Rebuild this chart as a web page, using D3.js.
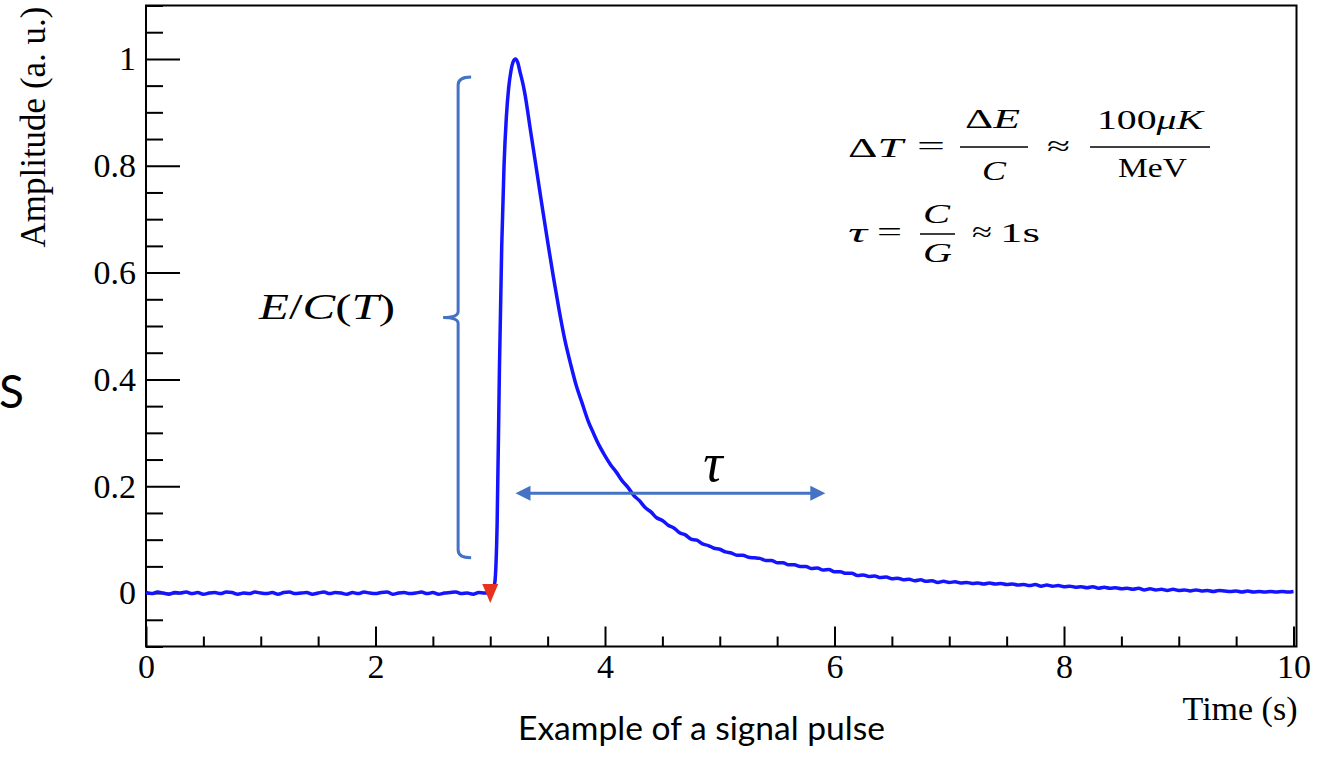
<!DOCTYPE html>
<html>
<head>
<meta charset="utf-8">
<script src="https://cdn.jsdelivr.net/npm/d3@7"></script>
<style>
  html, body { margin: 0; padding: 0; background: #fff; }
  svg { display: block; }
</style>
</head>
<body>
<svg id="chart" width="1321" height="758"></svg>
<script>
// Baseline before the pulse, one sample every 50 ms starting at t = 0 s
const baselineStart = 0.0;
const baselineStep = 0.05;
const baselineAmp = [
  0.001, -0.001, 0.002, 0.000, -0.002, 0.001, 0.000, 0.002, -0.001, 0.001,
  -0.002, 0.000, 0.001, -0.001, 0.002, 0.001, -0.002, 0.000, -0.001, 0.002,
  0.000, -0.001, 0.001, -0.002, 0.001, 0.002, -0.001, 0.000, 0.001, -0.002,
  0.000, 0.002, -0.001, 0.001, 0.000, -0.002, 0.001, -0.001, 0.002, 0.000,
  -0.001, 0.001, 0.002, -0.002, 0.000, 0.001, -0.001, 0.000, 0.002, -0.001,
  0.001, -0.002, 0.000, 0.001, 0.002, -0.001, 0.000, -0.002, 0.001, 0.000
];

// Leading edge, peak and first part of the fall
const pulseTimes = [3.00, 3.02, 3.04, 3.06, 3.08, 3.10, 3.12, 3.14, 3.16, 3.18, 3.20, 3.22,
                    3.24, 3.26, 3.28, 3.30, 3.35, 3.40, 3.45, 3.50, 3.55, 3.60, 3.65];
const pulseAmp   = [0.000, 0.004, 0.020, 0.130, 0.420, 0.650, 0.800, 0.890, 0.945, 0.977, 0.995, 1.000,
                    0.993, 0.975, 0.958, 0.937, 0.867, 0.797, 0.727, 0.658, 0.592, 0.530, 0.474];

// Thermal decay tail, one sample every 50 ms starting at t = 3.70 s
const tailStart = 3.70;
const tailStep = 0.05;
const tailAmp = [
  0.429, 0.388, 0.356, 0.324, 0.299, 0.276, 0.257, 0.240, 0.226, 0.210,
  0.198, 0.183, 0.173, 0.160, 0.152, 0.141, 0.136, 0.127, 0.122, 0.113,
  0.109, 0.101, 0.099, 0.092, 0.089, 0.084, 0.082, 0.077, 0.075, 0.071,
  0.071, 0.067, 0.066, 0.065, 0.061, 0.061, 0.057, 0.057, 0.053, 0.053,
  0.050, 0.050, 0.046, 0.047, 0.043, 0.044, 0.040, 0.040, 0.037, 0.037,
  0.033, 0.034, 0.031, 0.032, 0.029, 0.030, 0.027, 0.028, 0.025, 0.026,
  0.023, 0.025, 0.022, 0.023, 0.020, 0.022, 0.020, 0.021, 0.019, 0.020,
  0.018, 0.019, 0.017, 0.019, 0.017, 0.018, 0.016, 0.017, 0.015, 0.016,
  0.014, 0.016, 0.013, 0.015, 0.013, 0.014, 0.012, 0.013, 0.011, 0.012,
  0.010, 0.012, 0.009, 0.011, 0.009, 0.010, 0.008, 0.009, 0.007, 0.009,
  0.006, 0.008, 0.006, 0.007, 0.005, 0.007, 0.005, 0.006, 0.004, 0.006,
  0.004, 0.005, 0.003, 0.005, 0.004, 0.003, 0.004, 0.002, 0.004, 0.002,
  0.003, 0.002, 0.003, 0.002, 0.003, 0.002, 0.003
];

// Axis ticks
const xMajorTicks = [0, 2, 4, 6, 8, 10];
const yMajorTicks = [0, 0.2, 0.4, 0.6, 0.8, 1];

// Annotations (in data units)
const triggerTime = 3.0;             // onset marker
const tauSpan = [3.22, 5.92];        // decay-time arrow
const tauLevel = 0.187;
const braceTime = 2.72;              // energy bracket
const braceRange = [0.066, 0.966];

// ----------------------------------------------------------------------
const svg = d3.select("#chart");
const frame = { left: 146, right: 1296.5, top: 5.5, bottom: 646.5 };

const x = d3.scaleLinear().domain([0, 10.026]).range([frame.left, frame.right]);
const y = d3.scaleLinear().domain([-0.1, 1.1]).range([frame.bottom, frame.top]);

const serif = "'Liberation Serif', 'Times New Roman', serif";
const sans = "Lato, 'Open Sans', 'Liberation Sans', sans-serif";

// assemble the trace
const trace = [];
baselineAmp.forEach((a, i) => trace.push([baselineStart + i * baselineStep, a]));
pulseTimes.forEach((t, i) => trace.push([t, pulseAmp[i]]));
tailAmp.forEach((a, i) => trace.push([tailStart + i * tailStep, a]));

// ---- axes (ticks point inward, ROOT style)
const xMinor = d3.range(0, 10.001, 0.5).filter(v => !xMajorTicks.includes(v));
const yMinor = d3.range(-0.1, 1.1001, 0.05).map(v => +v.toFixed(2))
                 .filter(v => !yMajorTicks.some(m => Math.abs(m - v) < 1e-6));

function styleAxis(g) {
  g.select(".domain").remove();
  g.selectAll("line").attr("stroke", "#000").attr("stroke-width", 2);
  g.selectAll("text").attr("fill", "#000").attr("font-family", serif).attr("font-size", 34);
}

svg.append("g")
  .attr("transform", `translate(0,${frame.bottom})`)
  .call(d3.axisBottom(x).tickValues(xMajorTicks).tickSize(-20).tickPadding(7).tickFormat(d3.format("d")))
  .call(styleAxis);
svg.append("g")
  .attr("transform", `translate(0,${frame.bottom})`)
  .call(d3.axisBottom(x).tickValues(xMinor).tickSize(-10).tickFormat(""))
  .call(styleAxis);

svg.append("g")
  .attr("transform", `translate(${frame.left},0)`)
  .call(d3.axisLeft(y).tickValues(yMajorTicks).tickSize(-34).tickPadding(10)
        .tickFormat(d => d === 0 || d === 1 ? String(d) : d.toFixed(1)))
  .call(styleAxis);
svg.append("g")
  .attr("transform", `translate(${frame.left},0)`)
  .call(d3.axisLeft(y).tickValues(yMinor).tickSize(-17).tickFormat(""))
  .call(styleAxis);

// frame
svg.append("rect")
  .attr("x", frame.left).attr("y", frame.top)
  .attr("width", frame.right - frame.left).attr("height", frame.bottom - frame.top)
  .attr("fill", "none").attr("stroke", "#000").attr("stroke-width", 2);

// axis titles
svg.append("text")
  .attr("transform", `translate(45,${frame.top + 1}) rotate(-90)`)
  .attr("text-anchor", "end")
  .attr("font-family", serif).attr("font-size", 35)
  .text("Amplitude (a. u.)");

svg.append("text")
  .attr("x", frame.right + 1).attr("y", 720)
  .attr("text-anchor", "end")
  .attr("font-family", serif).attr("font-size", 34)
  .text("Time (s)");

// ---- signal trace
svg.append("path")
  .datum(trace)
  .attr("fill", "none")
  .attr("stroke", "#1414ff")
  .attr("stroke-width", 3.5)
  .attr("stroke-linejoin", "round")
  .attr("d", d3.line().curve(d3.curveMonotoneX).x(d => x(d[0])).y(d => y(d[1])));

// onset marker (downward triangle)
{
  const cx = x(triggerTime), cy = y(0);
  svg.append("path")
    .attr("d", `M${cx - 8},${cy - 9} L${cx + 8},${cy - 9} L${cx},${cy + 10} Z`)
    .attr("fill", "#e8321f");
}

// ---- annotations
const annot = "#4472c4";

// energy bracket
{
  const bx = x(braceTime), top = y(braceRange[1]), bot = y(braceRange[0]), mid = (top + bot) / 2;
  svg.append("path")
    .attr("d", `M${bx + 13},${top} Q${bx},${top} ${bx},${top + 8}` +
               ` L${bx},${mid - 6} Q${bx},${mid} ${bx - 15},${mid}` +
               ` Q${bx},${mid} ${bx},${mid + 6}` +
               ` L${bx},${bot - 8} Q${bx},${bot} ${bx + 13},${bot}`)
    .attr("fill", "none").attr("stroke", annot).attr("stroke-width", 3);
}

svg.append("text")
  .attr("x", 259).attr("y", 319)
  .attr("font-family", serif).attr("font-size", 35)
  .attr("textLength", 136).attr("lengthAdjust", "spacingAndGlyphs")
  .call(t => {
    t.append("tspan").attr("font-style", "italic").text("E");
    t.append("tspan").text("/");
    t.append("tspan").attr("font-style", "italic").text("C");
    t.append("tspan").text("(");
    t.append("tspan").attr("font-style", "italic").text("T");
    t.append("tspan").text(")");
  });

// decay-time arrow
{
  const x0 = x(tauSpan[0]), x1 = x(tauSpan[1]), ay = y(tauLevel);
  const len = 15, half = 7.5;
  svg.append("line")
    .attr("x1", x0 + len - 1).attr("x2", x1 - len + 1).attr("y1", ay).attr("y2", ay)
    .attr("stroke", annot).attr("stroke-width", 3);
  svg.append("path")
    .attr("d", `M${x0},${ay} L${x0 + len},${ay - half} L${x0 + len},${ay + half} Z`)
    .attr("fill", annot);
  svg.append("path")
    .attr("d", `M${x1},${ay} L${x1 - len},${ay - half} L${x1 - len},${ay + half} Z`)
    .attr("fill", annot);
  svg.append("text")
    .attr("x", 713).attr("y", 481)
    .attr("text-anchor", "middle")
    .attr("font-family", serif).attr("font-style", "italic").attr("font-size", 54)
    .text("τ");
}

// ---- formulas
function piece(x0, base, width, parts, size) {
  const t = svg.append("text")
    .attr("x", x0).attr("y", base)
    .attr("font-family", serif).attr("font-size", size || 27)
    .attr("textLength", width).attr("lengthAdjust", "spacingAndGlyphs");
  parts.forEach(([s, it]) => t.append("tspan").attr("font-style", it ? "italic" : "normal").text(s));
}
function bar(x0, x1, yy) {
  svg.append("line").attr("x1", x0).attr("x2", x1).attr("y1", yy).attr("y2", yy)
    .attr("stroke", "#000").attr("stroke-width", 1.6);
}

// ΔT = ΔE / C ≈ 100μK / MeV
piece(848, 157, 55, [["Δ"], ["T", true]]);
piece(917, 155, 28, [["="]]);
piece(965, 128, 55, [["Δ"], ["E", true]]);
bar(960, 1028, 147);
piece(982, 180, 24, [["C", true]]);
piece(1047, 155, 23, [["≈"]]);
piece(1097, 129, 106, [["100"], ["μK", true]]);
bar(1090, 1210, 147);
piece(1118, 177, 69, [["MeV"]]);

// τ = C / G ≈ 1s
piece(848, 242, 19, [["τ", true]]);
piece(877, 241, 25, [["="]]);
piece(923, 223, 27, [["C", true]]);
bar(920, 955, 234);
piece(923, 262, 29, [["G", true]]);
piece(972, 241, 20, [["≈"]]);
piece(1000, 242, 40, [["1s"]]);

// ---- slide text
svg.append("text")
  .attr("x", -1).attr("y", 408)
  .attr("font-family", sans).attr("font-size", 46)
  .text("S");

{
  const caption = svg.append("text")
    .attr("x", 518).attr("y", 740)
    .attr("font-family", sans).attr("font-size", 26)
    .text("Example of a signal pulse");
  // size the caption so it spans the same width as the slide text box
  const w = caption.node().getComputedTextLength();
  caption.attr("font-size", 26 * 367 / w);
}
</script>
</body>
</html>
